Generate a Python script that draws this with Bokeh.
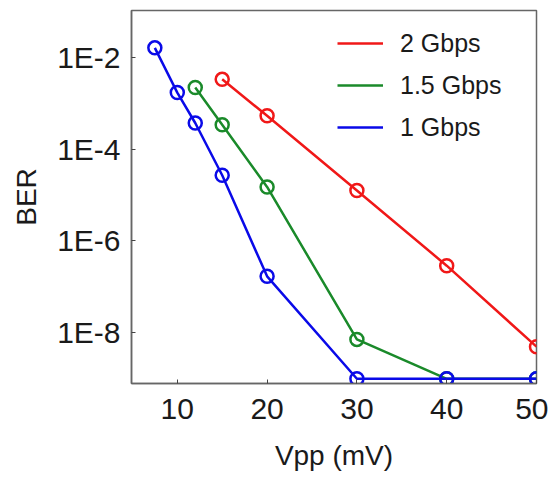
from bokeh.plotting import figure
from bokeh.models import Range1d, FixedTicker, CustomJSTickFormatter, Legend
from bokeh.embed import file_html
from bokeh.resources import INLINE

# Data
v_1g = [7.5, 10, 12, 15, 20, 30, 40, 50]
ber_1g = [1.6e-2, 1.7e-3, 3.7e-4, 2.7e-5, 1.7e-7, 1e-9, 1e-9, 1e-9]
v_15g = [12, 15, 20, 30, 40, 50]
ber_15g = [2.2e-3, 3.4e-4, 1.5e-5, 7.2e-9, 1e-9, 1e-9]
v_2g = [15, 20, 30, 40, 50]
ber_2g = [3.3e-3, 5.3e-4, 1.26e-5, 2.9e-7, 5e-9]

series_labels = ["2 Gbps", "1.5 Gbps", "1 Gbps"]
x_ticks = [10, 20, 30, 40, 50]
y_ticks = [1e-2, 1e-4, 1e-6, 1e-8]
y_tick_labels = ["1E-2", "1E-4", "1E-6", "1E-8"]

FONT = "Liberation Sans"
RED, GREEN, BLUE = "#f01818", "#1a8a2a", "#0a0ae8"

p = figure(width=548, height=473, output_backend="svg", toolbar_location=None,
           y_axis_type="log",
           x_range=Range1d(4.9, 50), y_range=Range1d(7.9e-10, 0.104),
           min_border_left=131, min_border_right=12, min_border_top=10, min_border_bottom=87)
p.background_fill_color = "white"
p.border_fill_color = "white"
p.outline_line_color = "#666666"
p.outline_line_width = 1.5
p.xgrid.visible = False
p.ygrid.visible = False

ylab = CustomJSTickFormatter(args=dict(tv=y_ticks, tl=y_tick_labels), code="""
let best = 0, bd = 1e9;
for (let i = 0; i < tv.length; i++) {
  const d = Math.abs(Math.log10(tv[i]) - Math.log10(tick));
  if (d < bd) { bd = d; best = i; }
}
return tl[best];
""")

p.xaxis.ticker = FixedTicker(ticks=x_ticks)
p.yaxis.ticker = FixedTicker(ticks=y_ticks)
p.yaxis.formatter = ylab

for ax in [p.xaxis[0], p.yaxis[0]]:
    ax.axis_line_color = "#666666"
    ax.axis_line_width = 1.5
    ax.major_tick_in = 4
    ax.major_tick_out = 0
    ax.minor_tick_in = 0
    ax.minor_tick_out = 0
    ax.major_tick_line_color = "#444444"
    ax.major_label_text_font = FONT
    ax.major_label_text_color = "#1a1a1a"
    ax.major_label_text_font_size = "30px"
    ax.axis_label_text_font = FONT
    ax.axis_label_text_font_style = "normal"
    ax.axis_label_text_color = "#1a1a1a"
    ax.axis_label_text_font_size = "28px"

p.xaxis.axis_label = "Vpp (mV)"
p.yaxis.axis_label = "BER"
p.xaxis[0].major_label_standoff = 15
p.xaxis[0].axis_label_standoff = 18
p.yaxis[0].major_label_standoff = 11
p.yaxis[0].axis_label_standoff = 12

items = []
for xs, ys, col, lab in [(v_2g, ber_2g, RED, series_labels[0]),
                         (v_15g, ber_15g, GREEN, series_labels[1]),
                         (v_1g, ber_1g, BLUE, series_labels[2])]:
    r = p.line(xs, ys, line_color=col, line_width=2.5)
    p.scatter(xs, ys, marker="circle", size=13, fill_color=None, line_color=col, line_width=2.5)
    items.append((lab, [r]))

legend = Legend(items=items, location=(206, 238))
legend.border_line_alpha = 0
legend.background_fill_alpha = 0
legend.label_text_font = FONT
legend.label_text_font_size = "25px"
legend.label_text_color = "#1a1a1a"
legend.glyph_width = 46
legend.glyph_height = 36
legend.label_height = 36
legend.label_standoff = 17
legend.spacing = 6
legend.padding = 0
legend.margin = 0
p.add_layout(legend, "center")

open("out.html", "w").write(file_html(p, INLINE))
